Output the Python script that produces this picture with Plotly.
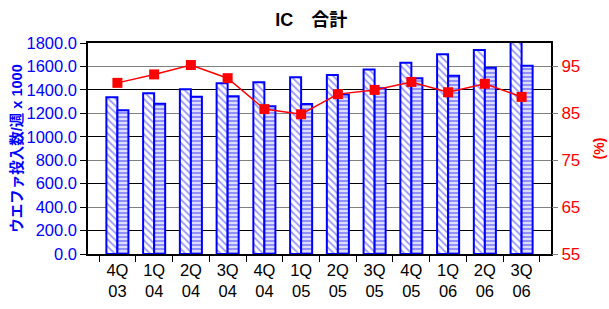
import plotly.graph_objects as go

categories = ["4Q<br>03", "1Q<br>04", "2Q<br>04", "3Q<br>04", "4Q<br>04", "1Q<br>05",
              "2Q<br>05", "3Q<br>05", "4Q<br>05", "1Q<br>06", "2Q<br>06", "3Q<br>06"]
capacity = [1338, 1372, 1405, 1456, 1465, 1507, 1528, 1575, 1632, 1703, 1740, 1812]
starts = [1227, 1282, 1342, 1345, 1260, 1280, 1360, 1413, 1499, 1521, 1589, 1606]
utilization = [91.5, 93.3, 95.3, 92.5, 85.9, 84.8, 89.1, 90.0, 91.7, 89.5, 91.3, 88.5]

left_ticks = [0, 200, 400, 600, 800, 1000, 1200, 1400, 1600, 1800]
right_ticks = [55, 65, 75, 85, 95]

FONT = "Liberation Sans, Arial, Noto Sans CJK JP, sans-serif"

fig = go.Figure()
fig.add_trace(go.Bar(
    x=categories, y=capacity, name="capacity",
    marker=dict(color="white", line=dict(color="#0000FF", width=2),
                pattern=dict(shape="\\", fgcolor="#3333FF", bgcolor="white",
                             size=5, solidity=0.35)),
))
fig.add_trace(go.Bar(
    x=categories, y=starts, name="starts",
    marker=dict(color="#BBBBFF", line=dict(color="#0000FF", width=2),
                pattern=dict(shape="-", fgcolor="#3333FF", bgcolor="#DDDDFF",
                             size=4, solidity=0.45)),
))
fig.add_trace(go.Scatter(
    x=categories, y=utilization, yaxis="y2", mode="lines+markers",
    line=dict(color="#FF0000", width=1.5),
    marker=dict(symbol="square", size=10, color="#FF0000"),
    name="util",
))

fig.update_layout(
    width=609, height=309,
    margin=dict(l=88, r=58, t=43, b=55),
    paper_bgcolor="white", plot_bgcolor="white",
    showlegend=False,
    barmode="group", bargap=0.4, bargroupgap=0,
    font=dict(family=FONT, size=16, color="black"),
    title=dict(text="<b>IC　合計</b>", x=0.511, xanchor="center", y=0.935, yanchor="middle",
               font=dict(family=FONT, size=18, color="black")),
    xaxis=dict(
        automargin=False,
        showline=True, linecolor="black", linewidth=1.5, mirror=True,
        ticks="outside", tickson="boundaries", ticklen=6, tickcolor="black",
        tickfont=dict(family=FONT, size=16.5, color="black"),
        showgrid=False,
    ),
    yaxis=dict(
        automargin=False,
        range=[0, 1800], tickvals=left_ticks, tickformat=".1f",
        showline=True, linecolor="black", linewidth=1.5, mirror=True,
        ticks="outside", ticklen=6, tickcolor="black",
        showgrid=True, gridcolor="black", gridwidth=1,
        tickfont=dict(family=FONT, size=16.5, color="#0000FF"),
        title=dict(text="<b>ウエファ投入数/週 x 1000</b>", standoff=0,
                   font=dict(family=FONT, size=14.5, color="#0000FF")),
        zeroline=False,
    ),
    yaxis2=dict(
        automargin=False,
        range=[55, 100], tickvals=right_ticks, overlaying="y", side="right",
        showline=False, ticks="outside", ticklen=6, tickcolor="#808080",
        showgrid=True, gridcolor="#808080", gridwidth=1, zeroline=False,
        tickfont=dict(family=FONT, size=17, color="#FF0000"),
        title=dict(text="<b>(%)</b>", standoff=14,
                   font=dict(family=FONT, size=14, color="#FF0000")),
    ),
)

fig.write_html("out.html", config={"displayModeBar": False},
               post_script="document.body.style.margin='0';")
